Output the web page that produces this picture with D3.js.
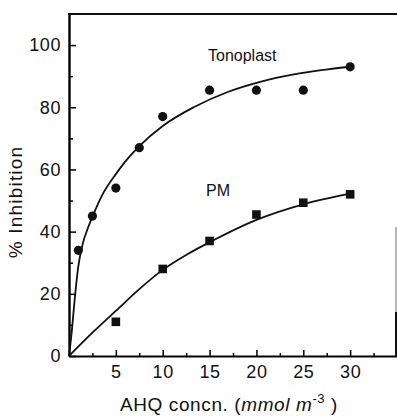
<html>
<head>
<script src="https://d3js.org/d3.v7.min.js"></script>
<style>
  body { margin: 0; background: #fff; }
  svg text { font-family: "Liberation Sans", Arial, Helvetica, sans-serif; fill: #111; }
</style>
</head>
<body>
<div id="chart"></div>
<script>
// measured points
var tonoX = [1, 2.5, 5, 7.5, 10, 15, 20, 25, 30];
var tonoY = [34, 45, 54, 67, 77, 85.5, 85.5, 85.5, 93];
var pmX = [5, 10, 15, 20, 25, 30];
var pmY = [11, 28, 37, 45.5, 49.3, 52];

// fitted curves
var tonoFitX = [0, 0.3, 0.6, 1, 1.5, 2, 2.6, 3.5, 5, 6, 7.5, 10, 13.3, 17, 20.4, 24, 27.6, 30.3];
var tonoFitY = [0, 8, 18, 29, 36.5, 41, 45.5, 51.5, 58.5, 62.5, 67.5, 74, 80, 85, 88.2, 90.6, 92.2, 93.2];
var pmFitX = [0, 2.5, 5, 7.5, 10, 12.5, 15, 20, 25, 30];
var pmFitY = [0, 7.5, 14.5, 21.5, 27.7, 32.5, 36.6, 43.8, 48.8, 52.2];

var xMajor = [5, 10, 15, 20, 25, 30];
var xMinor = [2.5, 7.5, 12.5, 17.5, 22.5, 27.5, 32.5];
var yMajor = [0, 20, 40, 60, 80, 100];
var yMinor = [10, 30, 50, 70, 90];

var W = 397, H = 416;
var svg = d3.select("#chart").append("svg").attr("width", W).attr("height", H);

var x = d3.scaleLinear().domain([0, 35]).range([69, 397]);
var y = d3.scaleLinear().domain([0, 110]).range([356, 14]);

// minor ticks first
svg.append("g").attr("transform", "translate(0,356)")
  .call(d3.axisBottom(x).tickValues(xMinor).tickSize(-3).tickFormat(""))
  .call(function(g) { g.select(".domain").remove(); g.selectAll("line").attr("stroke-width", 1.5); });
svg.append("g").attr("transform", "translate(69,0)")
  .call(d3.axisLeft(y).tickValues(yMinor).tickSize(-4).tickFormat(""))
  .call(function(g) { g.select(".domain").remove(); g.selectAll("line").attr("stroke-width", 1.5); });

var xAxis = svg.append("g").attr("transform", "translate(0,356)")
  .call(d3.axisBottom(x).tickValues(xMajor).tickSize(-6).tickSizeOuter(0).tickPadding(9));
xAxis.select(".domain").attr("stroke-width", 2.2);
xAxis.selectAll("line").attr("stroke-width", 1.5);
xAxis.selectAll("text").style("font-size", "18px").style("letter-spacing", "0.6px").attr("fill", "#111");

var yAxis = svg.append("g").attr("transform", "translate(69,0)")
  .call(d3.axisLeft(y).tickValues(yMajor).tickSize(-7).tickSizeOuter(0).tickPadding(8));
yAxis.select(".domain").attr("stroke-width", 2.4);
yAxis.selectAll("line").attr("stroke-width", 1.5);
yAxis.selectAll("text").style("font-size", "18px").style("letter-spacing", "0.6px").attr("fill", "#111");

// frame top and partial right side
svg.append("line").attr("x1", 68).attr("x2", 397).attr("y1", 14).attr("y2", 14)
  .attr("stroke", "#111").attr("stroke-width", 2.2);
svg.append("line").attr("x1", 396).attr("x2", 396).attr("y1", 227).attr("y2", 312)
  .attr("stroke", "#888").attr("stroke-width", 1.2);
svg.append("line").attr("x1", 396).attr("x2", 396).attr("y1", 312).attr("y2", 357)
  .attr("stroke", "#111").attr("stroke-width", 2);

var line = d3.line().x(function(d) { return x(d[0]); }).y(function(d) { return y(d[1]); })
  .curve(d3.curveMonotoneX);

svg.append("path").datum(d3.zip(tonoFitX, tonoFitY)).attr("d", line)
  .attr("fill", "none").attr("stroke", "#111").attr("stroke-width", 1.8);
svg.append("path").datum(d3.zip(pmFitX, pmFitY)).attr("d", line)
  .attr("fill", "none").attr("stroke", "#111").attr("stroke-width", 1.8);

svg.selectAll(".tono").data(d3.zip(tonoX, tonoY)).enter().append("circle")
  .attr("cx", function(d) { return x(d[0]); }).attr("cy", function(d) { return y(d[1]); })
  .attr("r", 4.6).attr("fill", "#111");

svg.selectAll(".pm").data(d3.zip(pmX, pmY)).enter().append("rect")
  .attr("x", function(d) { return x(d[0]) - 4.3; }).attr("y", function(d) { return y(d[1]) - 4.3; })
  .attr("width", 8.6).attr("height", 8.6).attr("fill", "#111");

svg.append("text").attr("x", 208).attr("y", 61).style("font-size", "16px").text("Tonoplast");
svg.append("text").attr("x", 206).attr("y", 196).style("font-size", "16px").text("PM");

svg.append("text").attr("transform", "translate(22,202) rotate(-90)")
  .attr("text-anchor", "middle").style("font-size", "19px").style("letter-spacing", "1.2px")
  .text("% Inhibition");

var xt = svg.append("text").attr("x", 229).attr("y", 411)
  .attr("text-anchor", "middle").style("font-size", "19px").style("letter-spacing", "0.6px");
xt.append("tspan").text("AHQ concn. (");
xt.append("tspan").style("font-style", "italic").text("mmol m");
xt.append("tspan").attr("dy", -8).style("font-size", "13px").text("-3");
xt.append("tspan").attr("dy", 8).text(" )");
</script>
</body>
</html>
